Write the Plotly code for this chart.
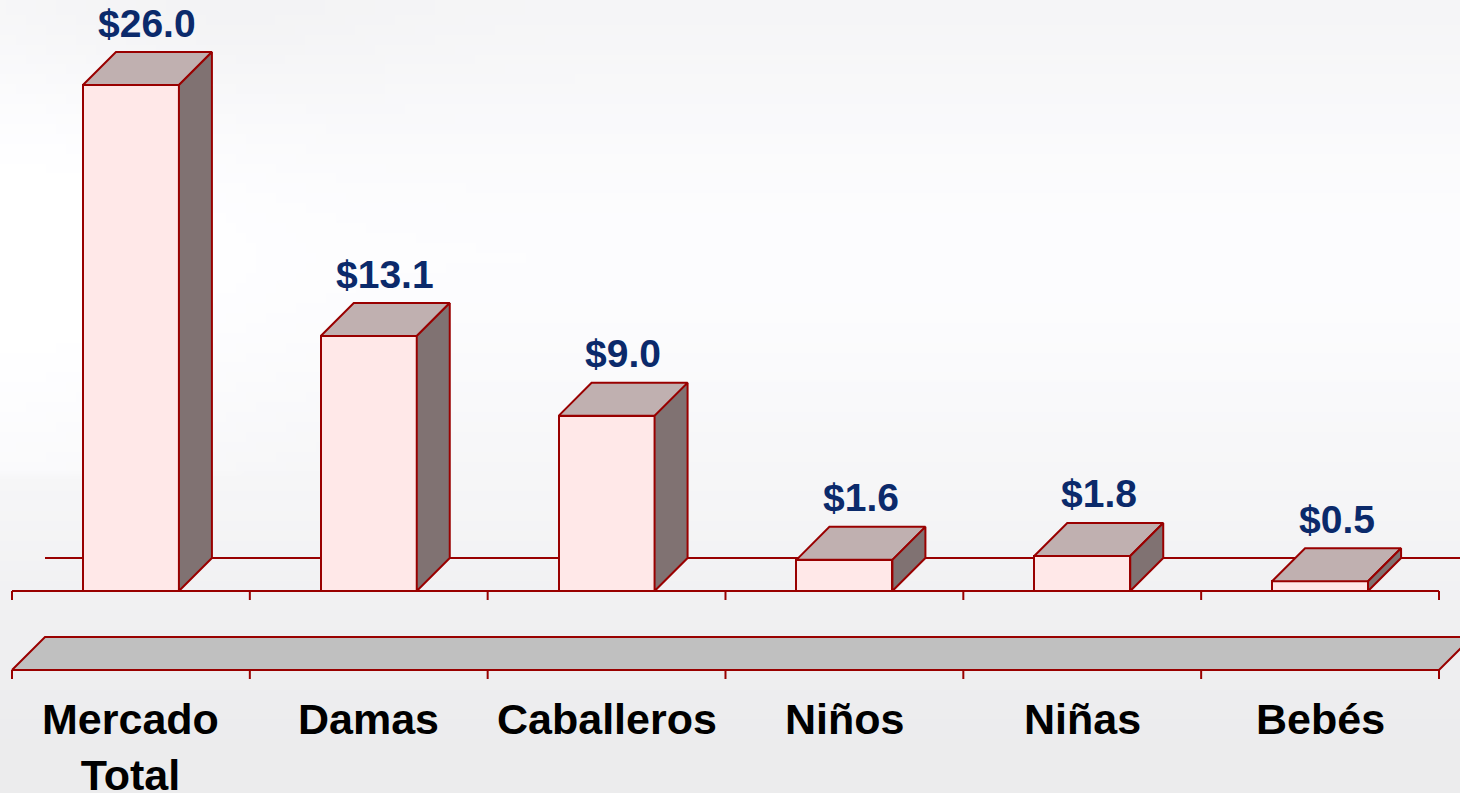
import base64, struct, zlib
import numpy as np
import plotly.graph_objects as go

# ---------------- data ----------------
categories = ["Mercado<br>Total", "Damas", "Caballeros", "Niños", "Niñas", "Bebés"]
values = [26.0, 13.1, 9.0, 1.6, 1.8, 0.5]
value_labels = [f"${v:.1f}" for v in values]

# ---------------- geometry (axis units) ----------------
W_PX, H_PX = 1460, 793
PX_PER_CAT = 237.83
PX_PER_UNIT = 19.46
X0_PX = 12          # pixel of x=-0.5
Y0_PX = 591         # pixel of value 0
x_range = [-0.5 - X0_PX / PX_PER_CAT, -0.5 + (W_PX - X0_PX) / PX_PER_CAT]
y_range = [-(H_PX - Y0_PX) / PX_PER_UNIT, Y0_PX / PX_PER_UNIT]

DX = 33 / PX_PER_CAT      # depth offset in category units
DY = 33 / PX_PER_UNIT     # depth offset in value units
BW = 96 / PX_PER_CAT      # bar width
TICK = 9 / PX_PER_UNIT
FB = -79 / PX_PER_UNIT    # lower floor band bottom

RED = "#990000"
FRONT = "#FFE8E8"
TOP = "#C0B0B0"
SIDE = "#807272"
BAND = "#C0C0C0"
NAVY = "#0B2A6B"

xs = list(range(len(values)))

# ---------------- background gradient image ----------------
H, Wd = 80, 146
yy, xx = np.mgrid[0:H, 0:Wd]
yn = yy / (H - 1)
xn = xx / (Wd - 1)
base = 243 + 10 * np.exp(-((yn - 0.32) / 0.28) ** 2)
base -= 7 * np.clip((yn - 0.66) / 0.3, 0, 1)
base += 4 * np.exp(-((xn - 0.0) / 0.15) ** 2) * (yn < 0.6)
base -= 4 * np.exp(-((xn - 0.1) / 0.15) ** 2) * np.exp(-(yn / 0.12) ** 2)
base = np.clip(base, 0, 255)
arr = np.stack([base, base, base + 1.5], axis=-1).clip(0, 255).astype(np.uint8)


def png_uri(a):
    h, w, _ = a.shape
    raw = b"".join(b"\x00" + a[r].tobytes() for r in range(h))

    def chunk(t, d):
        return struct.pack(">I", len(d)) + t + d + struct.pack(">I", zlib.crc32(t + d) & 0xFFFFFFFF)

    png = (b"\x89PNG\r\n\x1a\n" + chunk(b"IHDR", struct.pack(">IIBBBBB", w, h, 8, 2, 0, 0, 0))
           + chunk(b"IDAT", zlib.compress(raw, 9)) + chunk(b"IEND", b""))
    return "data:image/png;base64," + base64.b64encode(png).decode()


fig = go.Figure()

# floor band (lower)
fig.add_trace(go.Scatter(
    x=[-0.5, 5.5, 5.5 + DX, -0.5 + DX, -0.5],
    y=[FB, FB, FB + DY, FB + DY, FB],
    fill="toself", fillcolor=BAND, mode="lines",
    line=dict(color=RED, width=2), hoverinfo="skip", showlegend=False))

# ticks
tx, ty = [], []
for k in range(len(values) + 1):
    xk = -0.5 + k
    tx += [xk, xk, None, xk, xk, None]
    ty += [0, -TICK, None, FB, FB - TICK, None]
fig.add_trace(go.Scatter(x=tx, y=ty, mode="lines", line=dict(color=RED, width=2),
                         hoverinfo="skip", showlegend=False))

# front faces
fig.add_trace(go.Bar(x=xs, y=values, width=BW, marker=dict(color=FRONT, line=dict(color=RED, width=2)),
                     hoverinfo="skip", showlegend=False))

# top and side faces
for xi, v in zip(xs, values):
    l, r = xi - BW / 2, xi + BW / 2
    fig.add_trace(go.Scatter(
        x=[l, r, r + DX, l + DX, l], y=[v, v, v + DY, v + DY, v],
        fill="toself", fillcolor=TOP, mode="lines", line=dict(color=RED, width=2),
        hoverinfo="skip", showlegend=False))
    fig.add_trace(go.Scatter(
        x=[r, r + DX, r + DX, r, r], y=[0, DY, v + DY, v, 0],
        fill="toself", fillcolor=SIDE, mode="lines", line=dict(color=RED, width=2),
        hoverinfo="skip", showlegend=False))

shapes = [
    dict(type="line", xref="x", yref="y", x0=-0.5, x1=5.5, y0=0, y1=0,
         line=dict(color=RED, width=2), layer="below"),
    dict(type="line", xref="x", yref="y", x0=-0.5 + DX, x1=x_range[1], y0=DY, y1=DY,
         line=dict(color=RED, width=2), layer="below"),
]

annotations = []
for xi, v, t in zip(xs, values, value_labels):
    annotations.append(dict(x=xi + DX / 2, y=v + DY, xref="x", yref="y", text=t, showarrow=False,
                            yanchor="middle", yshift=29,
                            font=dict(family="Arial, Liberation Sans", size=39, color=NAVY, weight="bold")))
for xi, c in zip(xs, categories):
    annotations.append(dict(x=xi, y=-(693 - Y0_PX) / PX_PER_UNIT, xref="x", yref="y", text=c,
                            showarrow=False, yanchor="top",
                            font=dict(family="Arial, Liberation Sans", size=43, color="black", weight="bold")))

fig.update_layout(
    width=W_PX, height=H_PX,
    margin=dict(l=0, r=0, t=0, b=0),
    paper_bgcolor="#F4F4F5", plot_bgcolor="rgba(0,0,0,0)",
    xaxis=dict(range=x_range, visible=False, fixedrange=True),
    yaxis=dict(range=y_range, visible=False, fixedrange=True),
    shapes=shapes, annotations=annotations, bargap=0,
    images=[dict(source=png_uri(arr), xref="paper", yref="paper", x=0, y=1, sizex=1, sizey=1,
                 sizing="stretch", layer="below", xanchor="left", yanchor="top")],
)

fig.write_html("out.html", config={"displayModeBar": False},
               post_script="document.body.style.margin='0';document.body.style.overflow='hidden';")
